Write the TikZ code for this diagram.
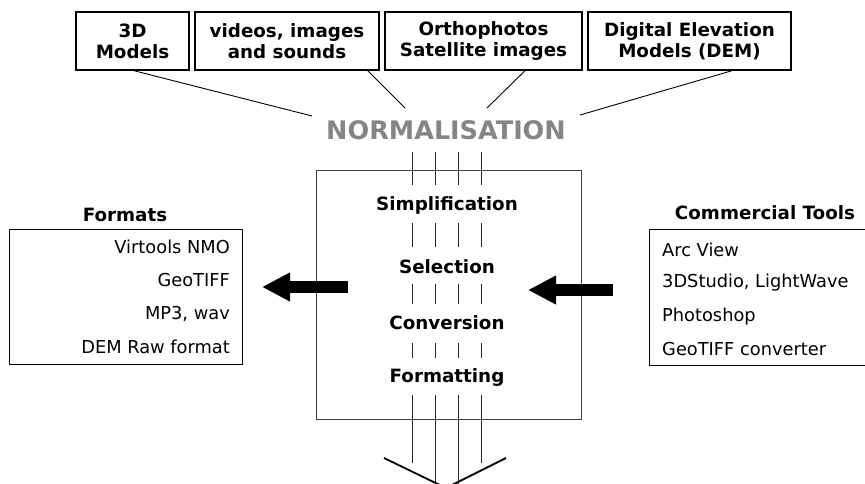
\documentclass[tikz,border=0pt]{standalone}
\usepackage{fontspec}
\setmainfont{DejaVu Sans}
\usetikzlibrary{arrows.meta}
\begin{document}
\begin{tikzpicture}[x=1pt,y=-1pt,
  topbox/.style={draw,line width=1.4pt,inner sep=0pt,align=center,font=\fontsize{18.3}{21}\selectfont\bfseries},
  lbl/.style={font=\fontsize{18.3}{21}\selectfont\bfseries,inner sep=0pt},
  item/.style={font=\fontsize{17.8}{20}\selectfont,inner sep=0pt},
  listbox/.style={draw,line width=1pt,inner sep=0pt},
  thin/.style={line width=0.9pt},
  bigarrow/.style={line width=12pt,-{Triangle[length=28pt,width=27pt]}}]
\clip (0,0) rectangle (865,484);
% top boxes
\node[topbox,minimum width=113pt,minimum height=58pt] (b1) at (132.5,41) {3D\\Models};
\node[topbox,minimum width=184pt,minimum height=58pt] (b2) at (287,41) {videos, images\\and sounds};
\node[topbox,minimum width=197pt,minimum height=58pt] (b3) at (483.5,41) {Orthophotos\\Satellite images};
\node[topbox,minimum width=203pt,minimum height=58pt] (b4) at (689.5,41) {Digital Elevation\\Models (DEM)};
% normalisation
\node[font=\fontsize{25.5}{28}\selectfont\bfseries,text=black!48,inner sep=0pt] (norm) at (446,130) {NORMALISATION};
\coordinate (n1) at (312,116);
\coordinate (n2) at (405,108);
\coordinate (n3) at (487,108);
\coordinate (n4) at (580,115);
\draw[thin] (b1.south) ++(1.5,0) coordinate (s1) -- (n1);
\draw[thin] (b2.south east) ++(-12,0) coordinate (s2) -- (n2);
\draw[thin] (b3.south) ++(41.5,0) coordinate (s3) -- (n3);
\draw[thin] (b4.south) ++(42.5,0) coordinate (s4) -- (n4);
% central box
\node[draw=black!75,line width=0.9pt,minimum width=265pt,minimum height=249pt,inner sep=0pt] (cbox) at (448.5,294.5) {};
\node[lbl] (simp) at (447,205) {Simplification};
\node[lbl] (sel) at (447,267) {Selection};
\node[lbl] (conv) at (447,323) {Conversion};
\node[lbl] (form) at (447,378) {Formatting};
% vertical strokes
\foreach \x in {412,435,458,481}{
  \draw[thin,black!85] (\x,152) -- (\x,185);
  \draw[thin,black!85] (\x,223) -- (\x,247);
  \draw[thin,black!85] (\x,284) -- (\x,304);
  \draw[thin,black!85] (\x,343) -- (\x,358);
}
\foreach \x in {412,481}{\draw[thin,black!85] (\x,395) -- (\x,463);}
\foreach \x in {435,458}{\draw[thin,black!85] (\x,395) -- (\x,490);}
% bottom V
\coordinate (va) at (384,458);
\coordinate (vb) at (446,488);
\coordinate (vc) at (506,458);
\draw[line width=1.8pt] (va) -- (vb) -- (vc);
% formats
\node[lbl] (ftitle) at (125,215) {Formats};
\node[listbox,minimum width=233pt,minimum height=135pt] (fbox) at (125.5,296.5) {};
\node[item,anchor=east] (f1) at (230,247) {Virtools NMO};
\node[item,anchor=east] (f2) at (230,280) {GeoTIFF};
\node[item,anchor=east] (f3) at (230,314) {MP3, wav};
\node[item,anchor=east] (f4) at (230,347) {DEM Raw format};
% commercial tools
\node[lbl] (ctitle) at (765,213) {Commercial Tools};
\node[listbox,minimum width=260pt,minimum height=136pt] (cbx) at (779,297) {};
\node[item,anchor=west] (c1) at (662,250) {Arc View};
\node[item,anchor=west] (c2) at (662,283) {3DStudio, LightWave};
\node[item,anchor=west] (c3) at (662,317) {Photoshop};
\node[item,anchor=west] (c4) at (662,349) {GeoTIFF converter};
% arrows
\coordinate (la0) at (348,287);
\coordinate (la1) at (262,287);
\coordinate (ra0) at (613,290);
\coordinate (ra1) at (528,290);
\draw[bigarrow] (la0) -- (la1);
\draw[bigarrow] (ra0) -- (ra1);
\end{tikzpicture}
\end{document}
